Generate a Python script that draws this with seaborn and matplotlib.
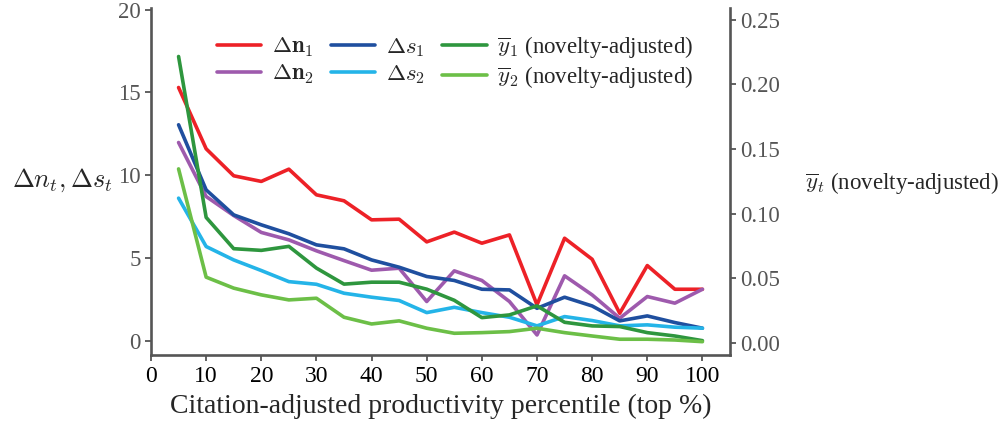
import numpy as np
import pandas as pd
import seaborn as sns
import matplotlib
matplotlib.use("Agg")
import matplotlib.pyplot as plt

# percentile bins (top %)
pct = [5, 10, 15, 20, 25, 30, 35, 40, 45, 50, 55, 60, 65, 70, 75, 80, 85, 90, 95, 100]

# left axis series
dn1 = [15.3, 11.6, 9.97, 9.63, 10.37, 8.82, 8.46, 7.31, 7.35, 5.98,
       6.57, 5.90, 6.40, 2.18, 6.20, 4.93, 1.67, 4.55, 3.12, 3.12]
dn2 = [11.98, 8.72, 7.57, 6.55, 6.10, 5.44, 4.85, 4.27, 4.39, 2.38,
       4.23, 3.65, 2.38, 0.36, 3.93, 2.78, 1.37, 2.68, 2.28, 3.12]
ds1 = [13.05, 9.12, 7.61, 7.01, 6.47, 5.80, 5.56, 4.89, 4.45, 3.89,
       3.65, 3.12, 3.08, 1.97, 2.64, 2.11, 1.21, 1.51, 1.11, 0.77]
ds2 = [8.62, 5.70, 4.89, 4.25, 3.58, 3.42, 2.88, 2.64, 2.44, 1.71,
       2.03, 1.71, 1.43, 0.91, 1.47, 1.23, 0.91, 0.97, 0.83, 0.77]

# right axis series (novelty-adjusted mean)
y1 = [0.2215, 0.0971, 0.0729, 0.0716, 0.0747, 0.0579, 0.0455, 0.0470, 0.0470, 0.0416,
      0.0330, 0.0196, 0.0217, 0.0287, 0.0160, 0.0132, 0.0127, 0.0080, 0.0054, 0.0018]
y2 = [0.1346, 0.0509, 0.0424, 0.0372, 0.0333, 0.0346, 0.0199, 0.0147, 0.0171, 0.0114,
      0.0075, 0.0080, 0.0088, 0.0114, 0.0080, 0.0054, 0.0029, 0.0029, 0.0023, 0.0010]

left_labels = [r"$\mathbf{\Delta n_1}$", r"$\mathbf{\Delta n_2}$", r"$\Delta s_1$", r"$\Delta s_2$"]
right_labels = [r"$\overline{y}_1$ (novelty-adjusted)", r"$\overline{y}_2$ (novelty-adjusted)"]
left_colors = ["#ed2127", "#9e5aad", "#1f4f9f", "#24b4e8"]
right_colors = ["#2e963e", "#6cbf47"]

sns.set_style("ticks")
plt.rcParams["font.family"] = ["Liberation Serif", "DejaVu Serif"]
plt.rcParams["mathtext.fontset"] = "cm"

left_df = pd.DataFrame({
    "pct": pct * 4,
    "value": dn1 + dn2 + ds1 + ds2,
    "series": sum([[lab] * len(pct) for lab in left_labels], []),
})
right_df = pd.DataFrame({
    "pct": pct * 2,
    "value": y1 + y2,
    "series": sum([[lab] * len(pct) for lab in right_labels], []),
})

fig = plt.figure(figsize=(10.04, 4.30), dpi=100)
ax = fig.add_axes([0.1504, 0.1744, 0.5767, 0.8070])
ax2 = ax.twinx()

sns.lineplot(data=left_df, x="pct", y="value", hue="series", hue_order=left_labels,
             palette=left_colors, linewidth=2.6, ax=ax, legend=False)
sns.lineplot(data=right_df, x="pct", y="value", hue="series", hue_order=right_labels,
             palette=right_colors, linewidth=2.6, ax=ax2, legend=False)

ax.set_xlim(0, 105)
ax.set_ylim(-0.85, 20.1)
ax2.set_ylim(-0.0093, 0.259)
ax.set_xticks(range(0, 101, 10))
ax.set_yticks([0, 5, 10, 15, 20])
ax2.set_yticks([0.00, 0.05, 0.10, 0.15, 0.20, 0.25])
ax2.set_yticklabels(["0.00", "0.05", "0.10", "0.15", "0.20", "0.25"])

spine_col = "#555555"
for a in (ax, ax2):
    a.spines["top"].set_visible(False)
    for s in ("left", "right", "bottom"):
        a.spines[s].set_color(spine_col)
        a.spines[s].set_linewidth(1.9)
    a.set_xlabel("")
    a.set_ylabel("")
ax.spines["right"].set_visible(False)
ax2.spines["left"].set_visible(False)
ax2.spines["bottom"].set_visible(False)

ax.tick_params(axis="x", direction="out", length=4, width=1.3, color=spine_col,
               labelsize=17, labelcolor="black", pad=4)
ax.tick_params(axis="y", direction="out", length=4, width=1.3, color=spine_col,
               labelsize=16.5, labelcolor="#555555")
ax2.tick_params(axis="y", direction="out", length=4, width=1.3, color=spine_col,
                labelsize=16.5, labelcolor="#555555")

ax.set_xlabel("Citation-adjusted productivity percentile (top %)", fontsize=20, labelpad=5)

fig.text(0.062, 0.58, r"$\Delta n_t, \Delta s_t$", fontsize=19, ha="center", va="center")
fig.text(0.898, 0.574, r"$\overline{y}_t$ (novelty-adjusted)", fontsize=16.5, ha="center", va="center")

# legend: 3 columns, column-major order
handles = ax.get_lines()[:4] + ax2.get_lines()[:2]
labels = left_labels + right_labels
fig.legend(handles, labels, ncol=3, loc="upper left", bbox_to_anchor=(0.202, 0.952),
           frameon=False, fontsize=16.5, handlelength=1.95, columnspacing=0.75,
           labelspacing=0.15, handletextpad=0.45, borderaxespad=0.2)

fig.savefig("out.png", dpi=100)
